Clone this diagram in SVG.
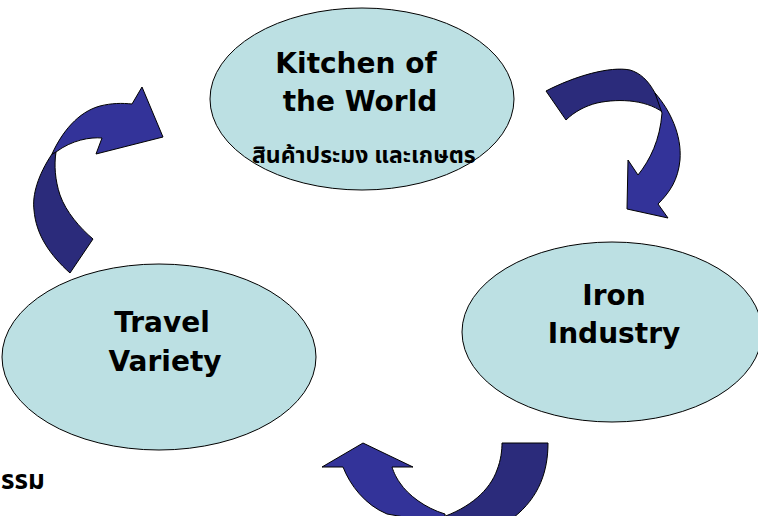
<svg xmlns="http://www.w3.org/2000/svg" width="758" height="516" viewBox="0 0 758 516">
<style>
.node{fill:#bce0e3;stroke:#000;stroke-width:1}
.lbl{font-family:"DejaVu Sans",sans-serif;font-weight:bold;font-size:28px;fill:#000;text-anchor:middle}
.th{font-family:"Noto Sans Thai","Noto Sans","DejaVu Sans",sans-serif;font-weight:bold;font-size:23px;fill:#000}
.a1{fill:#333399;stroke:#000;stroke-width:1;stroke-linejoin:round}
.a2{fill:#2b2b7b;stroke:#000;stroke-width:1;stroke-linejoin:round}
</style>
<rect width="758" height="516" fill="#fff"/>
<g id="connectors">
  <g id="arrow-top-right">
    <path class="a2" d="M546,91 C575,76 610,66 630,70 C640,73 648,80 655,93 L666,115 C650,100 620,98 597,103 C585,106 574,112 566,120 Z"/>
    <path class="a1" d="M655,93 C670,110 682,135 680,160 C678,180 670,192 658,204 L668,218 L627,209 L628,160 L638,175 C650,160 660,140 662,113 Z"/>
  </g>
  <g id="arrow-left">
    <path class="a2" d="M52,154 C38,175 32,195 34,210 C36,235 50,255 70,273 L93,239 C80,228 66,212 60,195 C55,180 54,165 56,152 Z"/>
    <path class="a1" d="M52,154 C62,132 78,112 100,106 C112,103 122,103 132,104 L142,87 L163,137 L96,154 L102,138 C90,137 72,140 56,152 Z"/>
  </g>
  <g id="arrow-bottom">
    <path class="a2" d="M502,443 L548,443 C548,470 540,497 513,518 L440,518 C470,508 490,490 497,470 C501,460 502,450 502,443 Z"/>
    <path class="a1" d="M445,514 C425,508 408,495 400,483 C395,476 393,470 392,467 L413,467 L363,443 L322,467 L343,467 C350,485 365,505 387,514 L410,518 L445,518 Z"/>
  </g>
</g>
<g id="node-kitchen">
  <ellipse class="node" cx="362" cy="99" rx="152" ry="91"/>
  <text class="lbl" x="356" y="73">Kitchen of</text>
  <text class="lbl" x="360" y="111">the World</text>
  <text class="th" x="252" y="163">สินค้าประมง และเกษตร</text>
</g>
<g id="node-iron">
  <ellipse class="node" cx="612" cy="332" rx="150" ry="90"/>
  <text class="lbl" x="614" y="305">Iron</text>
  <text class="lbl" x="614" y="343">Industry</text>
</g>
<g id="node-travel">
  <ellipse class="node" cx="159" cy="357" rx="157" ry="93"/>
  <text class="lbl" x="162" y="332">Travel</text>
  <text class="lbl" x="165" y="371">Variety</text>
</g>
<text x="1" y="489" font-family="Noto Sans Thai, Noto Sans, DejaVu Sans, sans-serif" font-size="26" font-weight="bold" fill="#000">รรม</text>
</svg>
